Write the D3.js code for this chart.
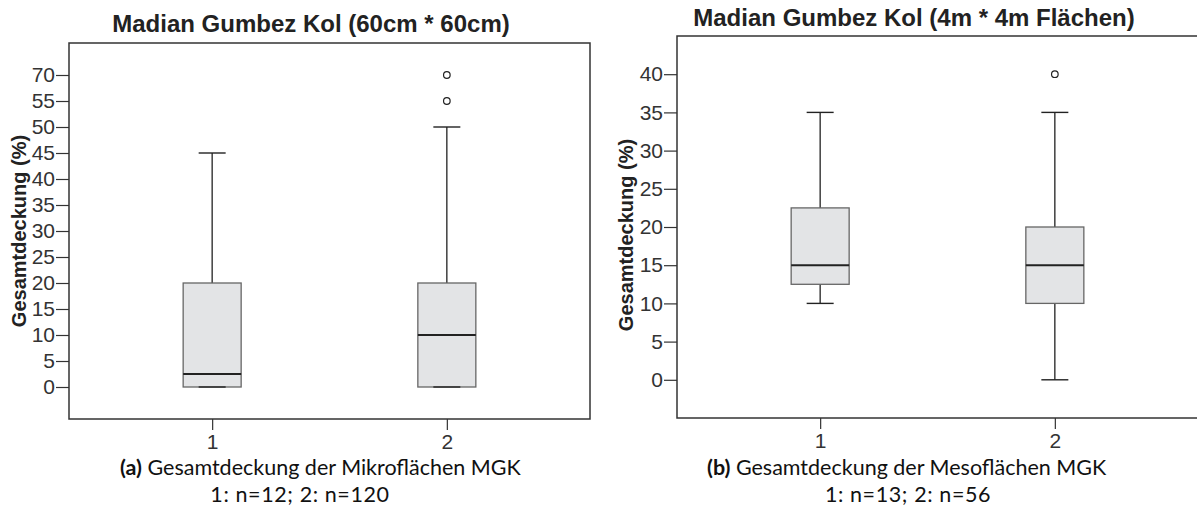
<!DOCTYPE html>
<html>
<head>
<meta charset="utf-8">
<script src="https://d3js.org/d3.v7.min.js"></script>
<style>
  body { margin: 0; background: #fff; }
</style>
</head>
<body>
<script>
// categories
var groups = ["1", "2"];

// left chart: Mikroflächen (60cm * 60cm)
var microTicks = [0, 5, 10, 15, 20, 25, 30, 35, 40, 45, 50, 55, 70];
var microMin = [0, 0];
var microQ1 = [0, 0];
var microMedian = [2.5, 10];
var microQ3 = [20, 20];
var microMax = [45, 50];
var microOutliers = [[], [55, 70]];

// right chart: Mesoflächen (4m * 4m)
var mesoTicks = [0, 5, 10, 15, 20, 25, 30, 35, 40];
var mesoMin = [10, 0];
var mesoQ1 = [12.5, 10];
var mesoMedian = [15, 15];
var mesoQ3 = [22.5, 20];
var mesoMax = [35, 35];
var mesoOutliers = [[], [40]];

var SANS = "'Liberation Sans', Arimo, Roboto, sans-serif";
var CAPFONT = "Lato, 'DejaVu Sans', sans-serif";

var W = 1197, H = 524;
var svg = d3.select("body").append("svg")
    .attr("width", W)
    .attr("height", H);

function drawPanel(opt) {
    var g = svg.append("g");
    var x = d3.scalePoint().domain(groups)
        .range([opt.left, opt.right]).padding(0.61);
    var y = opt.y;

    // frame
    g.append("rect")
        .attr("x", opt.left).attr("y", opt.top)
        .attr("width", opt.right - opt.left)
        .attr("height", opt.bottom - opt.top)
        .attr("fill", "none")
        .attr("stroke", "#333")
        .attr("stroke-width", 1.5);

    // y axis
    var ya = g.append("g")
        .attr("transform", "translate(" + opt.left + ",0)")
        .call(d3.axisLeft(y).tickValues(opt.ticks).tickSize(13).tickPadding(1));
    ya.select(".domain").remove();
    ya.selectAll("line").attr("stroke", "#333").attr("stroke-width", 1.2);
    ya.selectAll("text").style("font-family", SANS).style("font-size", "21px").attr("fill", "#333");

    // x axis
    var xa = g.append("g")
        .attr("transform", "translate(0," + opt.bottom + ")")
        .call(d3.axisBottom(x).tickSize(11).tickPadding(4));
    xa.select(".domain").remove();
    xa.selectAll("line").attr("stroke", "#333").attr("stroke-width", 1.2);
    xa.selectAll("text").style("font-family", SANS).style("font-size", "21px").attr("fill", "#333");

    var bw = 58, cw = 27;
    groups.forEach(function(k, i) {
        var cx = x(k);
        // whiskers
        g.append("line")
            .attr("x1", cx).attr("x2", cx)
            .attr("y1", y(opt.max[i])).attr("y2", y(opt.q3[i]))
            .attr("stroke", "#222").attr("stroke-width", 1.3);
        g.append("line")
            .attr("x1", cx).attr("x2", cx)
            .attr("y1", y(opt.q1[i])).attr("y2", y(opt.min[i]))
            .attr("stroke", "#222").attr("stroke-width", 1.3);
        // box
        g.append("rect")
            .attr("x", cx - bw / 2)
            .attr("y", y(opt.q3[i]))
            .attr("width", bw)
            .attr("height", y(opt.q1[i]) - y(opt.q3[i]))
            .attr("fill", "#e3e4e6")
            .attr("stroke", "#666")
            .attr("stroke-width", 1.3);
        // caps
        [opt.max[i], opt.min[i]].forEach(function(v) {
            g.append("line")
                .attr("x1", cx - cw / 2).attr("x2", cx + cw / 2)
                .attr("y1", y(v)).attr("y2", y(v))
                .attr("stroke", "#222").attr("stroke-width", 1.4);
        });
        // median
        g.append("line")
            .attr("x1", cx - bw / 2).attr("x2", cx + bw / 2)
            .attr("y1", y(opt.median[i])).attr("y2", y(opt.median[i]))
            .attr("stroke", "#222").attr("stroke-width", 2);
        // outliers
        g.selectAll(null).data(opt.outliers[i]).enter()
            .append("circle")
            .attr("cx", cx).attr("cy", function(d) { return y(d); })
            .attr("r", 3.3)
            .attr("fill", "#fff")
            .attr("stroke", "#222")
            .attr("stroke-width", 1.2);
    });

    // title
    g.append("text")
        .attr("x", opt.titleX).attr("y", opt.titleY)
        .attr("text-anchor", "middle")
        .style("font-family", SANS)
        .style("font-size", "24px").style("font-weight", "bold")
        .attr("fill", "#222")
        .text(opt.title);

    // y label
    g.append("text")
        .attr("transform", "translate(" + opt.labelX + "," + opt.labelY + ") rotate(-90)")
        .attr("text-anchor", "middle")
        .style("font-family", SANS)
        .style("font-size", "20px").style("font-weight", "bold")
        .attr("fill", "#222")
        .text("Gesamtdeckung (%)");

    // caption
    var cap = g.append("text")
        .attr("x", opt.capX).attr("y", 475)
        .style("font-family", CAPFONT)
        .style("font-size", "21.5px")
        .attr("fill", "#111");
    cap.append("tspan").style("font-weight", "bold").text(opt.capLabel);
    cap.append("tspan").text(" " + opt.caption);
    g.append("text")
        .attr("x", opt.cap2X).attr("y", 502)
        .attr("text-anchor", "middle")
        .style("font-family", CAPFONT)
        .style("font-size", "21.5px")
        .style("letter-spacing", "0.6px")
        .attr("fill", "#111")
        .text(opt.caption2);
}

// left: uneven tick values placed at equal steps
var microY = d3.scaleLinear()
    .domain(microTicks)
    .range(microTicks.map(function(d, i) { return 387 - i * 26; }));

drawPanel({
    left: 69, right: 590, top: 43, bottom: 419,
    y: microY, ticks: microTicks,
    min: microMin, q1: microQ1, median: microMedian, q3: microQ3, max: microMax,
    outliers: microOutliers,
    title: "Madian Gumbez Kol (60cm * 60cm)", titleX: 311, titleY: 32,
    labelX: 26, labelY: 231,
    capLabel: "(a)", caption: "Gesamtdeckung der Mikroflächen MGK", capX: 120,
    caption2: "1: n=12; 2: n=120", cap2X: 300
});

var mesoY = d3.scaleLinear().domain([-5, 45]).range([418, 36]);

drawPanel({
    left: 677, right: 1198, top: 36, bottom: 418,
    y: mesoY, ticks: mesoTicks,
    min: mesoMin, q1: mesoQ1, median: mesoMedian, q3: mesoQ3, max: mesoMax,
    outliers: mesoOutliers,
    title: "Madian Gumbez Kol (4m * 4m Flächen)", titleX: 914, titleY: 26,
    labelX: 633, labelY: 235,
    capLabel: "(b)", caption: "Gesamtdeckung der Mesoflächen MGK", capX: 707,
    caption2: "1: n=13; 2: n=56", cap2X: 908
});
</script>
</body>
</html>
